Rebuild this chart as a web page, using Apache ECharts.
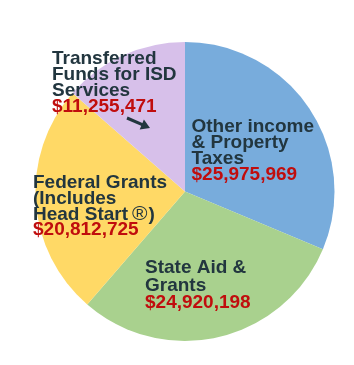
<!DOCTYPE html>
<html>
<head>
<meta charset="utf-8">
<script src="https://cdn.jsdelivr.net/npm/echarts@6/dist/echarts.min.js"></script>
<style>
  html, body { margin: 0; padding: 0; background: #fff; }
  #chart { width: 354px; height: 365px; }
</style>
</head>
<body>
<div id="chart"></div>
<script>
// slices, clockwise from 12 o'clock
const categories = [
  'Other income & Property Taxes',
  'State Aid & Grants',
  'Federal Grants (Includes Head Start®)',
  'Transferred Funds for ISD Services'
];
const values = [25975969, 24920198, 20812725, 11255471];
const colors = ['#78acdc', '#a9d18e', '#ffd966', '#d7c0ea'];
// how each name is broken on the chart
const labelLines = [
  ['Other income', '& Property', 'Taxes'],
  ['State Aid &', 'Grants'],
  ['Federal Grants', '(Includes', 'Head Start®)'],
  ['Transferred', 'Funds for ISD', 'Services']
];
// label block placement: left x, first baseline, line pitch
const labelPos = [
  [191.5, 133.5, 16],
  [145, 274.5, 17.5],
  [33, 189.5, 15.7],
  [52, 65.7, 15.9]
];

const FONT_FAMILY = '"Liberation Sans", Arial, sans-serif';
const dark = '#22363f';
const red = '#c00d0d';

function money(v) {
  return '$' + v.toLocaleString('en-US');
}

const chart = echarts.init(document.getElementById('chart'));

const texts = [];
labelLines.forEach((lines, i) => {
  const [x, base, lh] = labelPos[i];
  // baseline sits ~6.6px below the middle of a line box
  const top = base - lh / 2 - 6.6;
  const txt = lines.join('\n').replace('®', '{r|®}');
  texts.push({
    type: 'text',
    z: 10,
    style: {
      x: x, y: top, text: txt,
      fontFamily: FONT_FAMILY, fontSize: 19, fontWeight: 'bold', fill: dark,
      lineHeight: lh, verticalAlign: 'top',
      rich: {
        r: { fontFamily: FONT_FAMILY, fontSize: 21, fontWeight: 'normal', fill: dark,
             lineHeight: lh, padding: [0, 1, 0, 4] }
      }
    }
  });
  texts.push({
    type: 'text',
    z: 10,
    style: {
      x: x, y: top + lines.length * lh, text: money(values[i]),
      fontFamily: FONT_FAMILY, fontSize: 19, fontWeight: 'bold', fill: red,
      lineHeight: lh, verticalAlign: 'top'
    }
  });
});

// small pointer under the ISD label
texts.push({
  type: 'line', z: 10,
  shape: { x1: 127, y1: 118, x2: 144, y2: 125.3 },
  style: { stroke: dark, lineWidth: 3 }
});
texts.push({
  type: 'polygon', z: 10,
  shape: { points: [[150, 128], [139.7, 129.4], [143.9, 119.6]] },
  style: { fill: dark }
});

chart.setOption({
  animation: false,
  series: [{
    type: 'pie',
    center: [185, 191.5],
    radius: 149.5,
    startAngle: 90,
    clockwise: true,
    label: { show: false },
    labelLine: { show: false },
    itemStyle: { borderWidth: 0 },
    emphasis: { disabled: true },
    data: values.map((v, i) => ({
      name: categories[i],
      value: v,
      itemStyle: { color: colors[i] }
    }))
  }],
  graphic: texts
});
</script>
</body>
</html>
